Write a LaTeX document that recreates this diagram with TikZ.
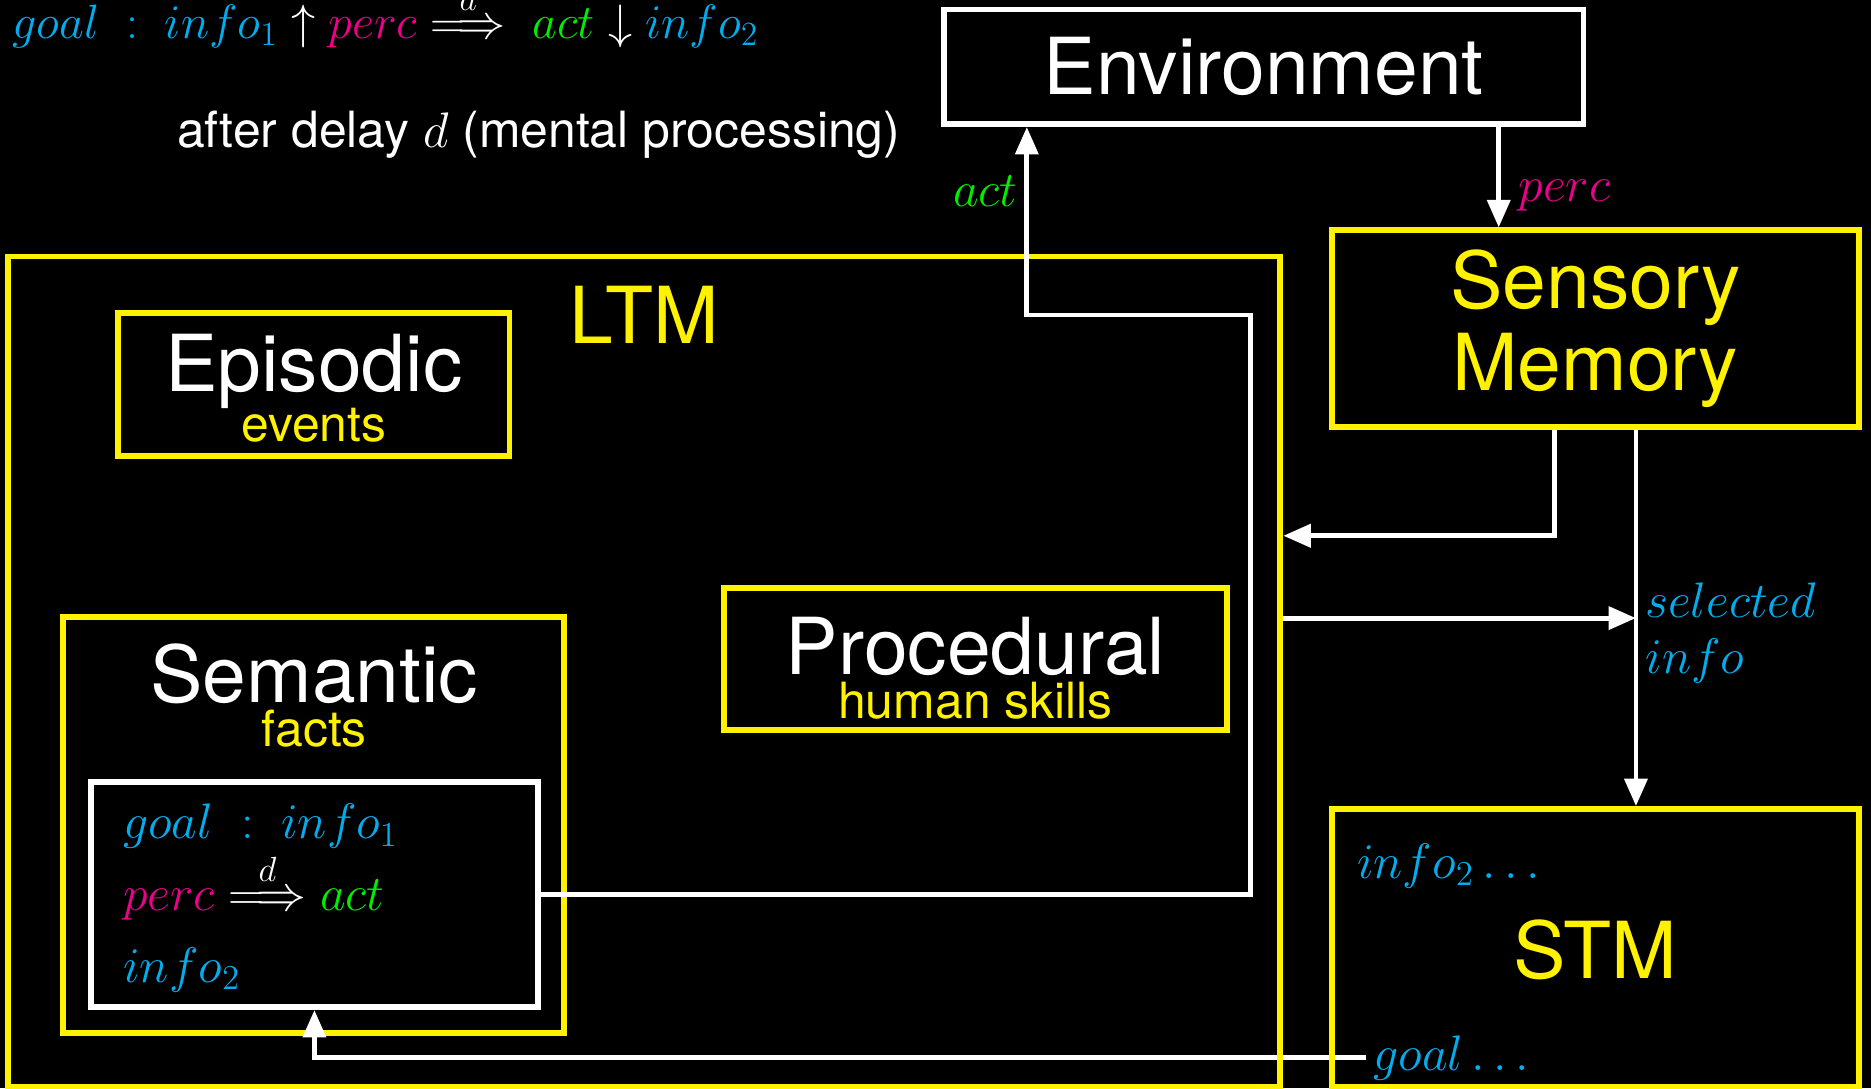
\RequirePackage{fix-cm}
\documentclass[tikz,border=0pt]{standalone}
\usepackage{amsmath}
\usepackage[no-math]{fontspec}
\setmainfont{TeX Gyre Heros}
\usepackage{xcolor}
\definecolor{memyellow}{HTML}{FFF200}
\definecolor{memcyan}{HTML}{00AEEF}
\definecolor{mempink}{HTML}{EC008C}
\definecolor{memgreen}{HTML}{00EE00}
\usetikzlibrary{arrows.meta, positioning, calc}

\newcommand{\bigsize}{\fontsize{37.5}{38.7}\selectfont}
\newcommand{\smallsize}{\fontsize{23.8}{26.4}\selectfont}
\newcommand{\blu}[1]{{\color{memcyan}#1}}
\newcommand{\pnk}[1]{{\color{mempink}#1}}
\newcommand{\grn}[1]{{\color{memgreen}#1}}

\begin{document}
\begin{tikzpicture}[
        frame/.style={draw=memyellow, line width=2.8pt, inner sep=0pt},
        wframe/.style={frame, draw=white},
        title/.style={font=\bigsize, text=white, inner sep=0pt},
        ytitle/.style={title, text=memyellow},
        sub/.style={font=\smallsize, text=memyellow, inner sep=0pt},
        formula/.style={font=\smallsize, text=white, inner sep=0pt},
        flow/.style={-{Triangle[length=0.46cm, width=0.38cm]}, line width=2.3pt, draw=white},
        tag/.style={font=\smallsize}
    ]
        % black page
        \fill[black] (0,0) rectangle (31.36,18.24);
        \useasboundingbox (0,0) rectangle (31.36,18.24);
        \clip (0,0) rectangle (31.36,18.24);

        % the rule, written out on top
        \node[formula, font=\fontsize{23}{26}\selectfont, anchor=base west] (rule) at (0.2,17.6) {$\blu{goal\ :\ info_1}\uparrow\pnk{perc}\overset{d}{\Longrightarrow}\ \grn{act}\downarrow\blu{info_2}$};
        \node[formula, anchor=base west] (delay) at (2.96,15.76) {after delay $d$ (mental processing)};

        % outside world and sensory store
        \node[wframe, title, minimum width=10.72cm, minimum height=1.92cm] (env) at (21.18,17.12) {Environment};
        \node[frame, ytitle, align=center, minimum width=8.84cm, minimum height=3.3cm] (sensory) at (26.74,12.73) {Sensory\\Memory};

        % LTM parts
        \node[frame, minimum width=6.56cm, minimum height=2.4cm] (episodic) at (5.26,11.8) {};
        \node[title, anchor=base] (episodictxt) at (5.26,11.68) {Episodic};
        \node[sub, anchor=base] (events) at (5.26,10.84) {events};

        \node[frame, minimum width=8.4cm, minimum height=6.98cm] (semantic) at (5.26,4.41) {};
        \node[title, anchor=base] (semantictxt) at (5.27,6.46) {Semantic};
        \node[sub, anchor=base] (facts) at (5.27,5.72) {facts};

        \node[wframe, minimum width=7.5cm, minimum height=3.78cm] (rulebox) at (5.27,3.25) {};
        \node[formula, anchor=base west] (rgoal) at (2.06,4.18) {$\blu{goal\ :\ info_1}$};
        \node[formula, anchor=base west] (rperc) at (2.06,2.98) {$\pnk{perc}\overset{d}{\Longrightarrow}\grn{act}$};
        \node[formula, anchor=base west] (rinfo) at (2.06,1.78) {$\blu{info_2}$};

        \node[frame, minimum width=8.42cm, minimum height=2.38cm] (procedural) at (16.35,7.19) {};
        \node[title, anchor=base] (proceduraltxt) at (16.35,6.94) {Procedural};
        \node[sub, anchor=base] (skills) at (16.35,6.2) {human skills};

        % STM contents
        \node[formula, anchor=base west] (stminfo) at (22.74,3.52) {$\blu{info_2\ldots}$};
        \node[ytitle, anchor=base] (stmtxt) at (26.74,1.84) {STM};
        \node[tag, text=memcyan, anchor=base west] (stmgoal) at (22.9,0.3) {$goal\ldots$};

        % goal handed back to the rule
        \draw[flow] (stmgoal.west) -| (rulebox.south);

        % the two stores
        \node[frame, minimum width=21.32cm, minimum height=13.92cm] (ltm) at (10.8,6.98) {};
        \node[ytitle, anchor=base] (ltmtxt) at (10.8,12.49) {LTM};
        \node[frame, minimum width=8.84cm, minimum height=4.66cm] (stm) at (26.74,2.35) {};

        % flows
        \coordinate (bend) at (20.96,12.96);
        \coordinate (percx) at (25.12,0);
        \coordinate (back) at (26.06,9.26);
        \coordinate (sel) at (27.42,7.88);

        \draw[flow] (rulebox.east) -| (bend) -| ([xshift=1.44cm]env.south west) node[tag, text=memgreen, left, pos=0.83] {$act$};
        \draw[flow] (percx |- env.south) -- (percx |- sensory.north) node[tag, text=mempink, right, pos=0.68, xshift=5pt] {$perc$};
        \draw[flow] (back |- sensory.south) |- (ltm.east |- back);
        \draw[flow] (sel |- sensory.south) -- (sel |- stm.north) node[tag, text=memcyan, right, align=left, pos=0.54] {$selected$\\$info$};
        \draw[flow] (ltm.east |- sel) -- (sel);
    \end{tikzpicture}
\end{document}
